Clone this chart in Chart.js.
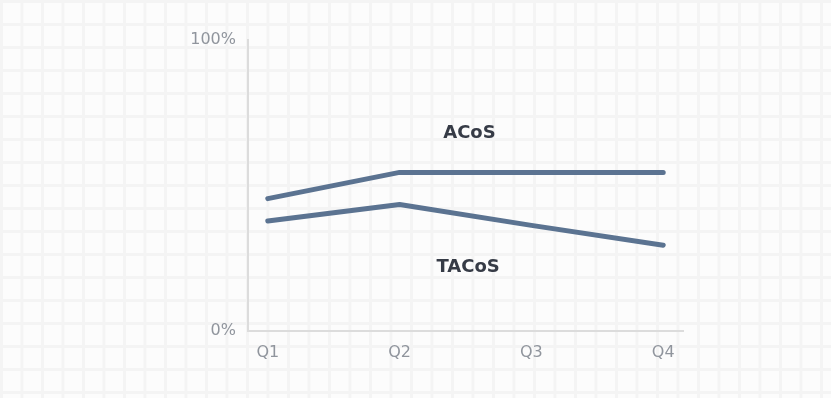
<!DOCTYPE html>
<html>
<head>
<meta charset="utf-8">
<script src="https://cdn.jsdelivr.net/npm/chart.js@4/dist/chart.umd.min.js"></script>
<style>
    html, body {
        margin: 0;
        padding: 0;
        width: 831px;
        height: 398px;
        overflow: hidden;
        background-color: #fcfcfc;
        background-image:
            linear-gradient(to right, #f4f4f4 0, #f4f4f4 3px, transparent 3px),
            linear-gradient(to bottom, #f4f4f4 0, #f4f4f4 3px, transparent 3px);
        background-size: 20.5px 23px;
    }
    #wrap {
        position: absolute;
        left: 0;
        top: 0;
        width: 831px;
        height: 398px;
    }
</style>
</head>
<body>
<div id="wrap"><canvas id="acosChart"></canvas></div>
<script>
// Quarterly ACoS / TACoS (percent)
const quarters = ['Q1', 'Q2', 'Q3', 'Q4'];
const acosValues = [45.5, 54.5, 54.5, 54.5];
const tacosValues = [37.8, 43.5, 36.3, 29.5];
const yTicks = [0, 100];

const lineColor = '#5b7391';
const tickFont = { size: 16, family: '"DejaVu Sans", sans-serif' };

// series name drawn in the plot area
const seriesLabels = {
    id: 'seriesLabels',
    afterDatasetsDraw(chart) {
        const c = chart.ctx;
        const x = chart.scales.x;
        const y = chart.scales.y;
        c.save();
        c.font = 'bold 18px "DejaVu Sans", sans-serif';
        c.fillStyle = '#363b46';
        c.textAlign = 'center';
        c.textBaseline = 'middle';
        c.fillText('ACoS', x.getPixelForValue(1.53), y.getPixelForValue(67.8));
        c.fillText('TACoS', x.getPixelForValue(1.52), y.getPixelForValue(21.8));
        c.restore();
    }
};

const ctx = document.getElementById('acosChart').getContext('2d');
const chart = new Chart(ctx, {
    type: 'line',
    data: {
        datasets: [{
            label: 'ACoS',
            data: acosValues.map((v, i) => ({ x: i, y: v })),
            borderColor: lineColor,
            borderWidth: 5,
            pointRadius: 0,
            borderCapStyle: 'round',
            borderJoinStyle: 'round',
            tension: 0
        }, {
            label: 'TACoS',
            data: tacosValues.map((v, i) => ({ x: i, y: v })),
            borderColor: lineColor,
            borderWidth: 5,
            pointRadius: 0,
            borderCapStyle: 'round',
            borderJoinStyle: 'round',
            tension: 0
        }]
    },
    options: {
        responsive: true,
        maintainAspectRatio: false,
        animation: false,
        layout: {
            padding: { left: 180, right: 148, top: 40, bottom: 24 }
        },
        plugins: {
            legend: { display: false },
            tooltip: { enabled: false }
        },
        scales: {
            x: {
                type: 'linear',
                min: -0.15,
                max: 3.15,
                grid: { display: false, drawTicks: false },
                border: { color: '#dcdcdc', width: 2 },
                afterBuildTicks: function(scale) {
                    scale.ticks = quarters.map((q, i) => ({ value: i }));
                },
                afterFit: function(scale) {
                    scale.height = 43;
                },
                ticks: {
                    padding: 12,
                    color: '#90959d',
                    font: tickFont,
                    callback: function(value) {
                        return quarters[value];
                    }
                }
            },
            y: {
                min: 0,
                max: 100,
                grid: { display: false, drawTicks: false },
                border: { color: '#dcdcdc', width: 2 },
                afterBuildTicks: function(scale) {
                    scale.ticks = yTicks.map(v => ({ value: v }));
                },
                afterFit: function(scale) {
                    scale.width = 68;
                },
                ticks: {
                    padding: 12,
                    labelOffset: 0,
                    color: '#90959d',
                    font: tickFont,
                    callback: function(value) {
                        return value + '%';
                    }
                }
            }
        }
    },
    plugins: [seriesLabels]
});
</script>
</body>
</html>
